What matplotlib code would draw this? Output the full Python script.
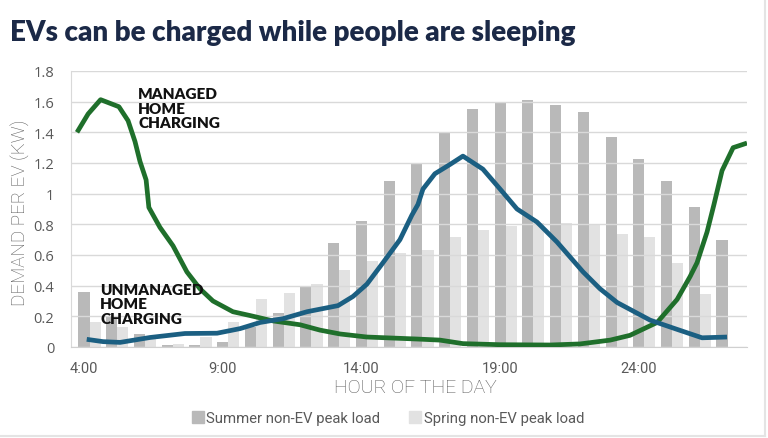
import numpy as np
import matplotlib
matplotlib.use("Agg")
import matplotlib.pyplot as plt
from matplotlib.lines import Line2D

# ---------------- data ----------------
hours = list(range(4, 28))  # 4:00 .. 27:00 (3:00 next day)
summer_load = [0.36, 0.20, 0.085, 0.01, 0.01, 0.035, 0.13, 0.22, 0.40, 0.68, 0.82, 1.08,
               1.20, 1.40, 1.55, 1.59, 1.61, 1.58, 1.535, 1.37, 1.225, 1.08, 0.91, 0.70]
spring_load = [0.16, 0.13, 0.05, 0.02, 0.065, 0.16, 0.31, 0.35, 0.41, 0.50, 0.56, 0.61,
               0.63, 0.72, 0.76, 0.79, 0.81, 0.81, 0.795, 0.735, 0.72, 0.55, 0.345, 0.0]

managed_x = [3.55, 3.95, 4.40, 5.06, 5.39, 5.64, 5.82, 6.04, 6.14, 6.54, 7.01, 7.51, 7.98,
             8.45, 9.17, 9.79, 10.62, 11.59, 12.31, 13.03, 14.00, 15.81, 16.63, 17.46,
             18.80, 20.60, 21.68, 22.77, 23.48, 24.46, 25.18, 25.65, 25.90, 26.26, 26.51,
             26.80, 27.20, 27.70]
managed_y = [1.40, 1.52, 1.613, 1.567, 1.476, 1.34, 1.21, 1.09, 0.91, 0.78, 0.66, 0.49, 0.38,
             0.30, 0.23, 0.205, 0.17, 0.145, 0.11, 0.085, 0.065, 0.052, 0.045, 0.022,
             0.015, 0.013, 0.02, 0.045, 0.076, 0.16, 0.31, 0.46, 0.55, 0.75, 0.93,
             1.15, 1.30, 1.33]

unmanaged_x = [3.90, 4.49, 5.10, 6.18, 7.44, 8.60, 9.43, 10.15, 10.98, 11.84, 12.96, 13.50,
               14.00, 14.58, 15.19, 15.62, 15.84, 16.02, 16.45, 16.99, 17.46, 18.18, 18.80,
               19.41, 20.13, 20.85, 21.79, 22.40, 23.02, 24.21, 25.18, 26.08, 26.98]
unmanaged_y = [0.05, 0.035, 0.03, 0.062, 0.088, 0.09, 0.12, 0.16, 0.185, 0.23, 0.27, 0.33,
               0.41, 0.55, 0.70, 0.86, 0.93, 1.03, 1.13, 1.19, 1.245, 1.16, 1.03,
               0.90, 0.815, 0.685, 0.49, 0.38, 0.29, 0.175, 0.115, 0.06, 0.065]

tick_hours = [4, 9, 14, 19, 24]
tick_labels = ["4:00", "9:00", "14:00", "19:00", "24:00"]
y_ticks = [0, 0.2, 0.4, 0.6, 0.8, 1, 1.2, 1.4, 1.6, 1.8]

title = "EVs can be charged while people are sleeping"
legend_labels = ["Summer non-EV peak load", "Spring non-EV peak load"]

# ---------------- style ----------------
SUMMER_C = "#b9b9b9"
SPRING_C = "#e2e2e2"
GREEN = "#1f6f2b"
BLUE = "#1b5f82"
GRID = "#d9d9d9"
TXT = "#595959"
NAVY = "#1b2947"

W, H = 768, 439
fig = plt.figure(figsize=(W / 100, H / 100), dpi=100)
ax = fig.add_axes([71 / W, 1 - 348 / H, (747 - 71) / W, (348 - 72) / H])

x = np.array(hours, dtype=float)
ax.bar(x - 0.2, summer_load, width=0.4, color=SUMMER_C, zorder=1)
ax.bar(x + 0.2, spring_load, width=0.4, color=SPRING_C, zorder=1)

ax.plot(managed_x, managed_y, color=GREEN, lw=3.4, zorder=3, solid_capstyle="butt",
        solid_joinstyle="round")
ax.plot(unmanaged_x, unmanaged_y, color=BLUE, lw=3.4, zorder=3, solid_capstyle="butt",
        solid_joinstyle="round")

ax.set_xlim(4 - 0.667, 4 + 23.70)
ax.set_ylim(0, 1.8)

ax.set_yticks(y_ticks)
ax.set_yticklabels([f"{v:g}" for v in y_ticks])
ax.set_xticks([h - 0.2 for h in tick_hours])
ax.set_xticklabels(tick_labels)

ax.yaxis.grid(True, color=GRID, lw=1.0, zorder=2.5)
ax.set_axisbelow(False)
ax.tick_params(length=0)
ax.tick_params(axis="y", pad=12, labelsize=10.5, labelcolor=TXT)
ax.tick_params(axis="x", pad=10, labelsize=10.5, labelcolor=TXT)
for lab in ax.get_xticklabels():
    lab.set_family(["Roboto", "DejaVu Sans"])
for lab in ax.get_yticklabels():
    lab.set_family(["Open Sans", "DejaVu Sans"])

for s in ["top", "right"]:
    ax.spines[s].set_visible(False)
ax.spines["left"].set_color(GRID)
ax.spines["bottom"].set_color("#d0d0d0")

ax.set_ylabel("DEMAND PER EV (KW)", fontsize=13.5, color=TXT, family=["Roboto", "DejaVu Sans"],
              fontweight="light")
ax.yaxis.set_label_coords(-50 / 676, 0.49)
ax.set_xlabel("HOUR OF THE DAY", fontsize=14, color=TXT, family=["Roboto", "DejaVu Sans"],
              fontweight="light")
ax.xaxis.set_label_coords(0.51, -(388 - 348) / 276)
ax.xaxis.label.set_va("center")
ax.yaxis.label.set_va("center")

# annotations
ax.text(5.75, 1.695, "MANAGED\nHOME\nCHARGING", fontsize=11, fontweight="heavy",
        family=["Lato", "DejaVu Sans"], color="#111111", va="top", ha="left",
        linespacing=1.15, zorder=4)
ax.text(4.38, 0.42, "UNMANAGED\nHOME\nCHARGING", fontsize=11, fontweight="heavy",
        family=["Lato", "DejaVu Sans"], color="#111111", va="top", ha="left",
        linespacing=1.15, zorder=4)

# title
fig.text(10 / W, 1 - 33 / H, title, fontsize=20, fontweight="heavy",
         family=["Lato", "DejaVu Sans"], color=NAVY, va="center", ha="left")

# legend
handles = [Line2D([], [], marker="s", ls="none", markersize=8, color=SUMMER_C),
           Line2D([], [], marker="s", ls="none", markersize=8, color=SPRING_C)]
fig.legend(handles, legend_labels, loc="center", bbox_to_anchor=(387 / W, 1 - 419 / H),
           ncol=2, frameon=False, handletextpad=0.1, columnspacing=1.8, handlelength=1.0,
           prop={"family": ["Roboto", "DejaVu Sans"], "size": 10.7},
           labelcolor=TXT)

# card border
fig.add_artist(Line2D([0, 765 / W], [1 - 437 / H, 1 - 437 / H], color="#e4e4e4", lw=1.5,
                      transform=fig.transFigure))
fig.add_artist(Line2D([765 / W, 765 / W], [1 - 437 / H, 1], color="#e4e4e4", lw=1.5,
                      transform=fig.transFigure))

fig.savefig("out.png", dpi=100)
